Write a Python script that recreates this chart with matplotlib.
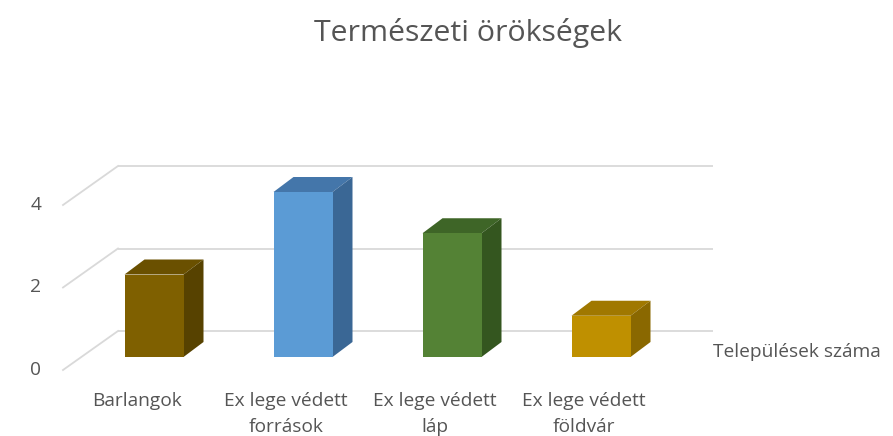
import matplotlib
matplotlib.use("Agg")
import matplotlib.pyplot as plt
from matplotlib.patches import Polygon

# ---- data ----
categories = ["Barlangok", "Ex lege védett\nforrások", "Ex lege védett\nláp", "Ex lege védett\nföldvár"]
values = [2, 4, 3, 1]
y_ticks = [0, 2, 4]
series_name = "Települések száma"
title = "Természeti örökségek"

front_colors = ["#7F6000", "#5B9BD5", "#548235", "#BF9000"]
top_colors = ["#6A5000", "#4476AA", "#3E6527", "#A07800"]
side_colors = ["#574200", "#3A6795", "#34561F", "#8A6800"]

# ---- layout ----
W, H, DPI = 893, 436, 100
STEP_PX = 149.0      # pixels per category
UNIT_PX = 41.25      # pixels per value unit
fig = plt.figure(figsize=(W / DPI, H / DPI), dpi=DPI)
ax = fig.add_axes([0, 0, 1, 1])
ax.set_axis_off()
ax.set_xlim(-154 / STEP_PX, (W - 154) / STEP_PX)
ax.set_ylim(-79 / UNIT_PX, (H - 79) / UNIT_PX)


def px(dx, dy):
    """Convert a pixel offset into data units."""
    return dx / STEP_PX, dy / UNIT_PX


text_color = "#555555"
grid_color = "#D9D9D9"
font = ["Open Sans", "DejaVu Sans"]
label_size = 13.8

# depth offsets relative to the front plane of the bars
back_dx, back_dy = px(37, 26)
floor_dx, floor_dy = px(-18, -13)
bar_dx, bar_dy = px(20, 15)
half_w = 29.5 / STEP_PX
wall_left, wall_right = -0.49, 3.50

# back wall gridlines and left wall diagonals
for v in y_ticks:
    ax.plot([wall_left + back_dx, wall_right + back_dx], [v + back_dy, v + back_dy],
            color=grid_color, lw=1.3, zorder=1, solid_capstyle="butt")
    ax.plot([wall_left + floor_dx, wall_left + back_dx], [v + floor_dy, v + back_dy],
            color=grid_color, lw=1.3, zorder=1)
    lx, _ = px(-27, 0)
    ax.text(wall_left + floor_dx + lx, v + floor_dy, str(v), ha="center", va="center",
            fontsize=label_size, color=text_color, family=font)

# 3D bars
for i, v in enumerate(values):
    x0, x1 = i - half_w, i + half_w
    top = Polygon([(x0, v), (x1, v), (x1 + bar_dx, v + bar_dy), (x0 + bar_dx, v + bar_dy)],
                  closed=True, facecolor=top_colors[i], edgecolor="none", zorder=3)
    side = Polygon([(x1, 0), (x1 + bar_dx, bar_dy), (x1 + bar_dx, v + bar_dy), (x1, v)],
                   closed=True, facecolor=side_colors[i], edgecolor="none", zorder=3)
    front = Polygon([(x0, 0), (x1, 0), (x1, v), (x0, v)],
                    closed=True, facecolor=front_colors[i], edgecolor="none", zorder=4)
    for p in (top, side, front):
        ax.add_patch(p)

# category labels
lab_dx, lab_dy = px(-17, -35)
for i, name in enumerate(categories):
    ax.text(i + lab_dx, lab_dy, name, ha="center", va="top", multialignment="center",
            fontsize=label_size, color=text_color, family=font, linespacing=1.55)

# series name
sx, sy = px(713 - 154, 5)
ax.text(sx, sy, series_name, ha="left", va="center",
        fontsize=label_size, color=text_color, family=font)

fig.text(468 / W, 1 - 33 / H, title, ha="center", va="center", fontsize=21.8,
         color=text_color, family=font)

fig.savefig("out.png", dpi=DPI, facecolor="white")
